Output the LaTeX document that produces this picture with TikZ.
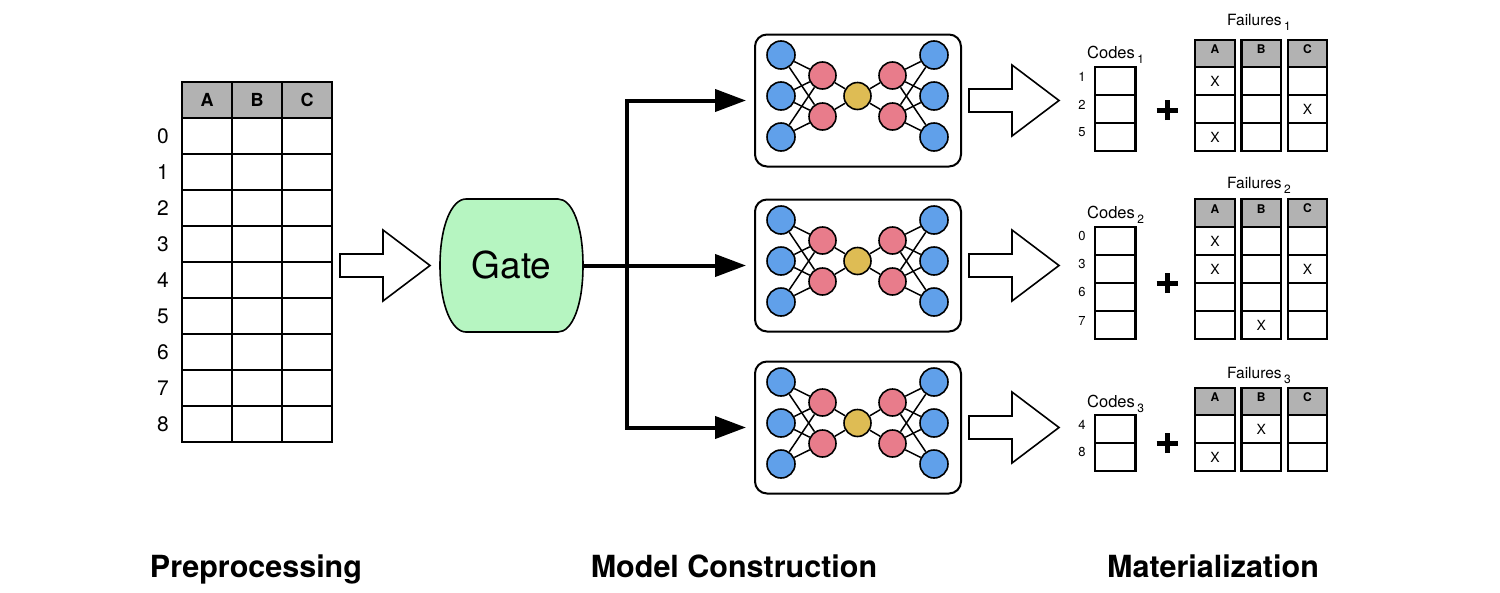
\documentclass[tikz,border=0pt]{standalone}
\usepackage{fontspec}
\setmainfont{TeX Gyre Heros}
\usetikzlibrary{arrows.meta}
\definecolor{hdr}{RGB}{178,178,178}
\definecolor{nblue}{RGB}{96,160,234}
\definecolor{npink}{RGB}{232,124,139}
\definecolor{nyel}{RGB}{222,188,84}
\definecolor{gatec}{RGB}{182,245,193}
\newcommand\fsz[1]{\fontsize{#1}{#1}\selectfont}
\newcommand\blockarr[2]{\draw[barr] (#1,#2) ++(0,-11.5) -- ++(43,0) -- ++(0,-24) -- ++(47,35.5) -- ++(-47,35.5) -- ++(0,-24) -- ++(-43,0) -- cycle;}
\begin{document}
\begin{tikzpicture}[x=1pt,y=-1pt,
  tab/.style={line width=2pt},
  stab/.style={line width=2.3pt},
  barr/.style={line width=1.6pt, fill=white, line join=miter},
  mbox/.style={draw, line width=2pt, rounded corners=12pt, minimum width=206pt, minimum height=132pt, inner sep=0pt},
  bnode/.style={circle, draw, line width=1.6pt, fill=nblue, minimum size=28pt, inner sep=0pt},
  pnode/.style={circle, draw, line width=1.6pt, fill=npink, minimum size=27pt, inner sep=0pt},
  ynode/.style={circle, draw, line width=1.6pt, fill=nyel, minimum size=27pt, inner sep=0pt},
  edge/.style={line width=1.5pt},
  conn/.style={line width=4pt, line join=miter},
  tip/.tip={Triangle[length=31pt,width=22pt]},
  lbl/.style={font=\fsz{30.5}\bfseries, anchor=base},
  xm/.style={font=\fsz{14}, inner sep=0pt},
  sh/.style={font=\fsz{12}\bfseries, inner sep=0pt},
  crow/.style={font=\fsz{13}, inner sep=0pt},
]
\useasboundingbox (0,0) rectangle (1500,592);

% ---------- left table ----------
\foreach \c [count=\i from 0] in {A,B,C} {
  \pgfmathsetmacro\xl{182+50*\i}
  \draw[tab, fill=hdr] (\xl,82) rectangle ++(50,36);
  \node[font=\fsz{18}\bfseries, inner sep=0pt] (h\c) at (\xl+25,100) {\c};
  \foreach \r in {0,...,8} \draw[tab] (\xl,118+36*\r) rectangle ++(50,36);
}
\foreach \r in {0,...,8} \node[font=\fsz{21}, inner sep=0pt] (rl\r) at (163,136+36*\r) {\r};

% ---------- block arrow into gate ----------
\blockarr{340}{265.5}

% ---------- gate ----------
\draw[line width=1.6pt, fill=gatec] (466,199) -- (558,199) .. controls (572,199) and (583,225) .. (583,265.5) .. controls (583,306) and (572,332) .. (558,332) -- (466,332) .. controls (452,332) and (440,306) .. (440,265.5) .. controls (440,225) and (452,199) .. (466,199) -- cycle;
\node[minimum width=143pt, minimum height=133pt, inner sep=0pt, font=\fsz{37}] (gate) at (511.5,265.5) {Gate};

% ---------- model boxes ----------
\foreach \k/\cy in {1/100.5, 2/265.5, 3/427.5} {
  \node[mbox] (box\k) at (858,\cy) {};
  \pgfmathsetmacro\ny{\cy-4.5}
  \foreach \j/\dy in {1/-41, 2/0, 3/41} {
    \node[bnode] (bl\k\j) at (781,\ny+\dy) {};
    \node[bnode] (br\k\j) at (934,\ny+\dy) {};
  }
  \foreach \j/\dy in {1/-20.5, 2/20.5} {
    \node[pnode] (pl\k\j) at (822.5,\ny+\dy) {};
    \node[pnode] (pr\k\j) at (892.5,\ny+\dy) {};
  }
  \node[ynode] (y\k) at (857.5,\ny) {};
  \foreach \a in {1,2,3} \foreach \b in {1,2} {
    \draw[edge] (bl\k\a) -- (pl\k\b);
    \draw[edge] (br\k\a) -- (pr\k\b);
  }
  \foreach \b in {1,2} {
    \draw[edge] (pl\k\b) -- (y\k);
    \draw[edge] (pr\k\b) -- (y\k);
  }
  \blockarr{969}{\cy}
}

% ---------- connectors ----------
\coordinate (j) at (627,265.5);
\draw[conn, -tip, shorten >=8pt] (gate.east) -- (box2.west);
\draw[conn, tip-tip, shorten >=8pt, shorten <=8pt] (box1.west) -- (j |- box1.west) -- (j |- box3.west) -- (box3.west);

% ---------- materialization tables ----------
\foreach \k/\ht/\rt/\rh/\codes/\fy/\cyl in {1/40/67/28/{1,2,5}/25/58, 2/199/227/28/{0,3,6,7}/188/218, 3/388/415/28/{4,8}/378/407} {
  \foreach \cc [count=\n from 0] in \codes {
    \draw[stab] (1095,\rt+\n*\rh) rectangle (1135.5,\rt+\n*\rh+\rh);
    \node[crow] (cl\k\n) at (1082,\rt+\n*\rh+\rh/2) {\cc};
    \foreach \col/\xl/\xr in {A/1195/1235, B/1241.5/1281, C/1288/1327} {
      \draw[stab] (\xl,\rt+\n*\rh) rectangle (\xr,\rt+\n*\rh+\rh);
    }
  }
  \foreach \col/\xl/\xr in {A/1195/1235, B/1241.5/1281, C/1288/1327} {
    \draw[stab, fill=hdr] (\xl,\ht) rectangle (\xr,\rt);
    \node[sh] (fh\k\col) at ({(\xl+\xr)/2},{(\ht+\rt)/2}) {\col};
  }
  \node[font=\fsz{16.5}, anchor=base west, inner sep=0pt] (codes\k) at (1087,\cyl) {Codes\hspace{2.5pt}\raisebox{-5pt}{\fsz{12}\k}};
  \node[font=\fsz{15.5}, anchor=base west, inner sep=0pt] (fail\k) at (1227,\fy) {Failures\hspace{2.5pt}\raisebox{-5.5pt}{\fsz{12}\k}};
}
% plus signs
\foreach \k/\py in {1/110, 2/283, 3/443} {
  \coordinate (plus\k) at (1167,\py);
  \draw[line width=5pt] ([xshift=-10.5pt]plus\k) -- ([xshift=10.5pt]plus\k);
  \draw[line width=5pt] ([yshift=-10pt]plus\k) -- ([yshift=10pt]plus\k);
}
% X marks
\node[xm] (x11) at (1215,81) {X};
\node[xm] (x12) at (1307.5,109) {X};
\node[xm] (x13) at (1215,137) {X};
\node[xm] (x21) at (1215,241) {X};
\node[xm] (x22) at (1215,269) {X};
\node[xm] (x23) at (1307.5,269) {X};
\node[xm] (x24) at (1261.25,325) {X};
\node[xm] (x31) at (1261.25,429) {X};
\node[xm] (x32) at (1215,457) {X};

% ---------- bottom labels ----------
\node[lbl] (lpre) at (256,577) {Preprocessing};
\node[lbl] (lmod) at (734,577) {Model Construction};
\node[lbl] (lmat) at (1213,577) {Materialization};
\end{tikzpicture}
\end{document}
